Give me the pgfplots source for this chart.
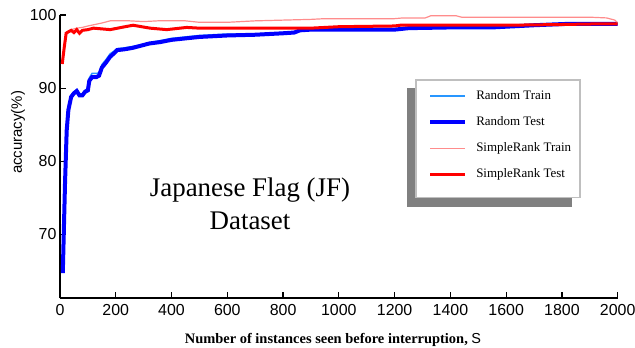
\documentclass[border=0pt]{standalone}
\usepackage{pgfplots}
\pgfplotsset{compat=1.18}
\usepackage{fontspec}
\setmainfont{Liberation Serif}
\setsansfont{Liberation Sans}
\definecolor{rtrain}{RGB}{40,150,255}
\definecolor{rtest}{RGB}{0,0,255}
\definecolor{strain}{RGB}{255,140,140}
\definecolor{stest}{RGB}{255,0,0}
\begin{document}
\begin{tikzpicture}
\useasboundingbox (-60bp,-50bp) rectangle (575bp,298bp);
% legend frame and shadow
\fill[black!50] (346.7bp,91.3bp) rectangle (511.7bp,210bp);
\draw[black!25, fill=white, line width=1.5bp] (356bp,100.3bp) rectangle (520bp,218bp);
\begin{axis}[
  at={(0,0)}, anchor=south west,
  width=557.7bp, height=283bp, scale only axis,
  xmin=0, xmax=2000, ymin=61.3, ymax=100,
  axis lines=left, axis line style={-, line width=1.2bp},
  tick align=inside, major tick length=6bp, tick style={line width=1.2bp, black},
  xtick={0,200,...,2000}, ytick={70,80,90,100},
  /pgf/number format/assume math mode=true,
  /pgf/number format/set thousands separator={},
  ticklabel style={font=\sffamily\fontsize{16}{16}\selectfont},
  xticklabel style={yshift=-3bp},
  xlabel={\textbf{Number of instances seen before interruption,} {\sffamily S}},
  xlabel style={font=\fontsize{14.5}{14.5}\selectfont, at={(axis description cs:0.4895,-0.1625)}, anchor=base},
  ylabel={accuracy(\%)},
  ylabel style={font=\sffamily\fontsize{15}{15}\selectfont, at={(axis description cs:-0.0753,0.585)}, anchor=center},
  legend style={at={(axis description cs:0.660,0.735)}, anchor=north west, draw=none, fill=none,
    inner sep=0pt, font=\fontsize{13}{13}\selectfont, row sep=14bp, column sep=9bp,
    nodes={inner sep=0pt, text height=9bp, text depth=3bp}},
  legend cell align=left,
  legend image code/.code={\draw[#1] plot coordinates {(0bp,0bp) (35bp,0bp)};},
]
\addplot[rtrain, line width=1.5bp] coordinates {
(10,64.9) (18,77.5) (24,84.5) (30,87.3) (40,89.0) (50,89.5) (60,89.8) (70,89.2) (80,89.2) (90,89.7) (100,90.0) (105,91.4) (115,92.0) (130,92.0) (140,92.1) (150,93.2) (165,93.9) (180,94.7) (195,95.1) (205,95.4) (230,95.5) (260,95.7) (290,95.9) (320,96.2) (360,96.5) (400,96.8) (450,97.0) (500,97.2) (600,97.4) (700,97.4) (800,97.6) (840,97.7) (860,97.9) (900,98.0) (1000,98.0) (1100,98.0) (1200,98.1) (1250,98.3) (1400,98.4) (1550,98.4) (1700,98.6) (1830,98.8) (1900,98.8) (2000,98.8)
};
\addlegendentry{Random Train}
\addplot[rtest, line width=4bp] coordinates {
(10,64.7) (18,77.0) (24,84.2) (30,87.0) (40,88.8) (50,89.3) (60,89.6) (70,89.0) (80,89.0) (90,89.5) (100,89.7) (105,91.0) (115,91.5) (130,91.5) (140,91.7) (150,92.8) (165,93.5) (180,94.3) (195,94.8) (205,95.2) (230,95.3) (260,95.5) (290,95.8) (320,96.1) (360,96.3) (400,96.6) (450,96.8) (500,97.0) (600,97.2) (700,97.3) (800,97.5) (840,97.6) (860,97.9) (900,98.0) (1000,98.0) (1100,98.0) (1200,98.0) (1250,98.2) (1400,98.3) (1550,98.3) (1700,98.6) (1830,98.8) (1900,98.8) (2000,98.8)
};
\addlegendentry{Random Test}
\addplot[strain, line width=1.2bp] coordinates {
(8,93.3) (15,95.5) (22,97.5) (30,97.8) (40,98.0) (60,98.2) (80,98.3) (100,98.5) (150,98.9) (180,99.2) (250,99.2) (300,99.1) (350,99.2) (450,99.2) (500,99.0) (600,99.0) (700,99.2) (800,99.3) (900,99.4) (950,99.5) (1200,99.5) (1230,99.6) (1310,99.6) (1330,99.9) (1420,99.9) (1440,99.7) (1500,99.7) (1700,99.7) (1900,99.7) (1960,99.6) (1990,99.3) (2000,98.9)
};
\addlegendentry{SimpleRank Train}
\addplot[stest, line width=3bp] coordinates {
(8,93.3) (15,95.5) (22,97.5) (30,97.7) (40,97.9) (50,97.6) (60,98.0) (70,97.5) (80,97.9) (100,98.0) (120,98.2) (150,98.1) (180,98.0) (220,98.3) (262,98.6) (323,98.2) (383,98.0) (454,98.3) (500,98.2) (600,98.2) (700,98.2) (900,98.2) (1000,98.4) (1200,98.5) (1220,98.6) (1400,98.6) (1600,98.6) (1800,98.7) (1950,98.8) (2000,98.8)
};
\addlegendentry{SimpleRank Test}
\end{axis}
\node[anchor=base, font=\fontsize{27}{27}\selectfont] at (190bp,101.3bp) {Japanese Flag (JF)};
\node[anchor=base, font=\fontsize{27}{27}\selectfont] at (190bp,68bp) {Dataset};
\end{tikzpicture}
\end{document}
